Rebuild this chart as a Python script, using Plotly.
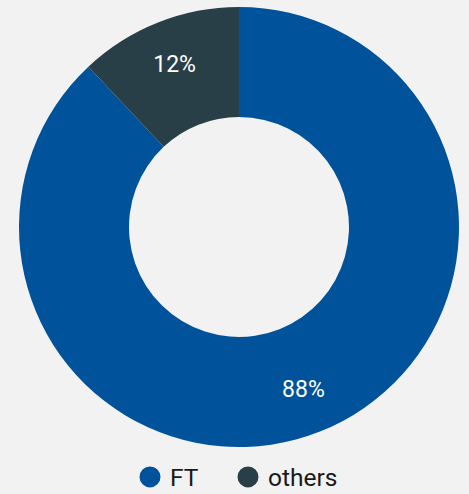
import plotly.graph_objects as go

labels = ["FT", "others"]
values = [88, 12]
colors = ["#00539b", "#283f47"]
legend_ids = ["legend", "legend2"]

fig = go.Figure()
# visible donut
fig.add_trace(go.Pie(
    labels=labels, values=values, hole=0.5, sort=False, direction="clockwise",
    rotation=0, marker=dict(colors=colors, line=dict(width=0)),
    textinfo="none", showlegend=False, hoverinfo="skip",
))
# transparent ring carrying the percentage labels slightly further out
fig.add_trace(go.Pie(
    labels=labels, values=values, hole=0.59, sort=False, direction="clockwise",
    rotation=0, marker=dict(colors=["rgba(0,0,0,0)"] * len(values), line=dict(width=0)),
    textinfo="percent", texttemplate="%{percent:.0%}", textposition="inside",
    textfont=dict(family="Roboto", size=23, color="white"),
    insidetextorientation="horizontal", showlegend=False, hoverinfo="skip",
))
for lab, col, lg in zip(labels, colors, legend_ids):
    fig.add_trace(go.Scatter(
        x=[None], y=[None], mode="markers", name=lab, legend=lg,
        marker=dict(size=16, color=col, symbol="circle", line=dict(width=6, color=col)),
        showlegend=True,
    ))

leg_common = dict(orientation="h", xanchor="left", xref="container", yref="container",
                  y=1 - 477 / 494, yanchor="middle", font=dict(size=24.5),
                  bgcolor="rgba(0,0,0,0)")
fig.update_layout(
    width=469, height=494,
    paper_bgcolor="#f2f2f2", plot_bgcolor="#f2f2f2",
    margin=dict(l=19, r=10, t=7, b=47),
    xaxis=dict(visible=False), yaxis=dict(visible=False),
    font=dict(family="Roboto", size=24, color="#1a1a1a"),
    legend=dict(x=130 / 469, **leg_common),
    legend2=dict(x=228 / 469, **leg_common),
)
fig.write_html("out.html", config={"displayModeBar": False},
               post_script="document.body.style.margin='0';")
